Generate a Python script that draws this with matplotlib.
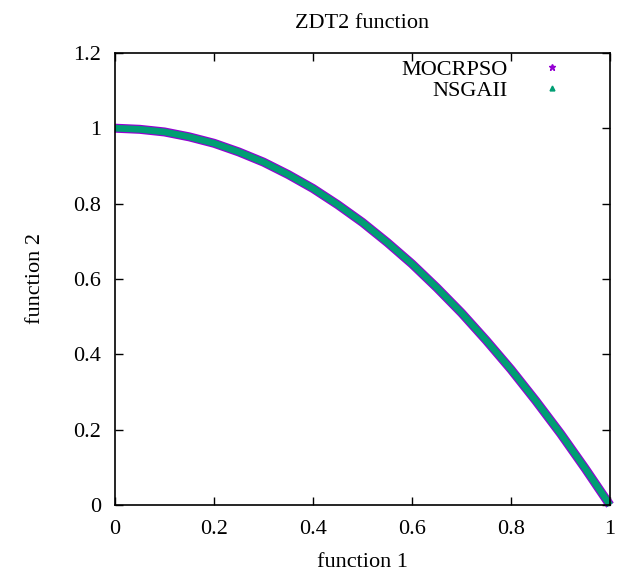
import matplotlib.pyplot as plt
from matplotlib.lines import Line2D

# Pareto front (both series lie on the same band)
f1_mocrpso = [0, 0.05, 0.1, 0.15, 0.2, 0.25, 0.3, 0.35, 0.4, 0.45, 0.5,
              0.55, 0.6, 0.65, 0.7, 0.75, 0.8, 0.85, 0.9, 0.95, 1.0]
f2_mocrpso = [1.0, 0.997, 0.99, 0.977, 0.96, 0.937, 0.91, 0.877, 0.84, 0.797, 0.75,
              0.697, 0.64, 0.577, 0.51, 0.437, 0.36, 0.277, 0.19, 0.097, 0.0]
f1_nsgaii = [0, 0.05, 0.1, 0.15, 0.2, 0.25, 0.3, 0.35, 0.4, 0.45, 0.5,
             0.55, 0.6, 0.65, 0.7, 0.75, 0.8, 0.85, 0.9, 0.95, 1.0]
f2_nsgaii = [1.0, 0.997, 0.99, 0.977, 0.96, 0.937, 0.91, 0.877, 0.84, 0.797, 0.75,
             0.697, 0.64, 0.577, 0.51, 0.437, 0.36, 0.277, 0.19, 0.097, 0.0]
xticks = [0, 0.2, 0.4, 0.6, 0.8, 1]
yticks = [0, 0.2, 0.4, 0.6, 0.8, 1, 1.2]

purple = '#9400d3'
green = '#009e73'

plt.rcParams['font.family'] = ['Liberation Serif', 'DejaVu Serif']

fig = plt.figure(figsize=(6.25, 5.74), dpi=100)
ax = fig.add_axes([0.184, 0.12, 0.792, 0.788])

ax.plot(f1_mocrpso, f2_mocrpso, color=purple, lw=6.5, solid_capstyle='butt', clip_on=False)
ax.plot(f1_nsgaii, f2_nsgaii, color=green, lw=4.8, solid_capstyle='butt', clip_on=False)

ax.set_xlim(0, 1)
ax.set_ylim(0, 1.2)
ax.set_xticks(xticks)
ax.set_xticklabels(['0', '0.2', '0.4', '0.6', '0.8', '1'])
ax.set_yticks(yticks)
ax.set_yticklabels(['0', '0.2', '0.4', '0.6', '0.8', '1', '1.2'])
ax.tick_params(direction='in', length=6, width=1, top=True, right=True,
               labelsize=16, colors='black')
ax.tick_params(axis='x', pad=11)
ax.tick_params(axis='y', pad=10)
for s in ax.spines.values():
    s.set_linewidth(1.2)

ax.set_xlabel('function 1', fontsize=16, labelpad=10)
ax.set_ylabel('function 2', fontsize=16, labelpad=20)
ax.set_title('ZDT2 function', fontsize=16, pad=18)

handles = [Line2D([], [], ls='none', marker='*', color=purple, markersize=5),
           Line2D([], [], ls='none', marker='^', color=green, markersize=3.5)]
ax.legend(handles, ['MOCRPSO', 'NSGAII'], loc='upper right', frameon=False,
          fontsize=16, markerfirst=False, handletextpad=1.0, labelspacing=0.0,
          bbox_to_anchor=(0.968, 1.029))

fig.savefig('out.png', dpi=100)
